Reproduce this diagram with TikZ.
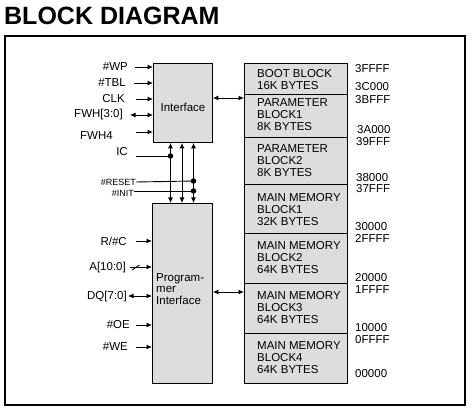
\documentclass[tikz,border=0pt]{standalone}
\usepackage{fontspec}
\setmainfont{Liberation Sans}
\usetikzlibrary{arrows.meta}
\definecolor{boxgray}{RGB}{221,221,221}
\begin{document}
\begin{tikzpicture}[x=1pt,y=-1pt,
  lbl/.style={font=\fontsize{11.5}{12}\selectfont, inner sep=0pt},
  slbl/.style={font=\fontsize{9}{10}\selectfont, inner sep=0pt},
  blk/.style={draw, fill=boxgray, line width=0.9pt, inner sep=0pt, anchor=north west},
  arr/.style={line width=0.9pt, -{Latex[length=5.5pt,width=5pt]}},
  darr/.style={line width=0.9pt, {Latex[length=5.5pt,width=5pt]}-{Latex[length=5.5pt,width=5pt]}},
  wire/.style={line width=0.9pt},
  dot/.style={circle, fill, inner sep=0pt, minimum size=5.5pt}]
\useasboundingbox (0,0) rectangle (473,411);

\node[anchor=west, inner sep=0pt, font=\fontsize{25}{25}\selectfont\bfseries] (title) at (4,16) {BLOCK DIAGRAM};
\draw[line width=2pt] (5,36.5) rectangle (465,405);

% blocks
\node[blk, minimum width=59pt, minimum height=79pt] (ifc) at (153,63) {};
\node[lbl] (ifctxt) at (183,107) {Interface};
\node[blk, minimum width=60pt, minimum height=180pt] (prog) at (152,203) {};
\node[lbl, anchor=west, align=left, font=\fontsize{11.5}{11.5}\selectfont] (progtxt) at (156,289) {Program-\\mer\\Interface};

% memory blocks
\node[blk, minimum width=103pt, minimum height=31pt] (b1) at (244,63) {};
\node[blk, minimum width=103pt, minimum height=43pt] (b2) at (244,94) {};
\node[blk, minimum width=103pt, minimum height=47pt] (b3) at (244,137) {};
\node[blk, minimum width=103pt, minimum height=49pt] (b4) at (244,184) {};
\node[blk, minimum width=103pt, minimum height=50pt] (b5) at (244,233) {};
\node[blk, minimum width=103pt, minimum height=50pt] (b6) at (244,283) {};
\node[blk, minimum width=103pt, minimum height=50pt] (b7) at (244,333) {};

\node[lbl, anchor=west, align=left] (t1) at (257,79.5) {BOOT BLOCK\\16K BYTES};
\node[lbl, anchor=west, align=left] (t2) at (257,115) {PARAMETER\\BLOCK1\\8K BYTES};
\node[lbl, anchor=west, align=left] (t3) at (257,161) {PARAMETER\\BLOCK2\\8K BYTES};
\node[lbl, anchor=west, align=left] (t4) at (257,209.5) {MAIN MEMORY\\BLOCK1\\32K BYTES};
\node[lbl, anchor=west, align=left] (t5) at (257,257.5) {MAIN MEMORY\\BLOCK2\\64K BYTES};
\node[lbl, anchor=west, align=left] (t6) at (257,307.5) {MAIN MEMORY\\BLOCK3\\64K BYTES};
\node[lbl, anchor=west, align=left] (t7) at (257,358) {MAIN MEMORY\\BLOCK4\\64K BYTES};

% addresses
\node[lbl, anchor=west] (a1) at (355,69) {3FFFF};
\node[lbl, anchor=west] (a2) at (355,87) {3C000};
\node[lbl, anchor=west] (a3) at (355,100) {3BFFF};
\node[lbl, anchor=west] (a4) at (357,130) {3A000};
\node[lbl, anchor=west] (a5) at (356,142) {39FFF};
\node[lbl, anchor=west] (a6) at (356,178) {38000};
\node[lbl, anchor=west] (a7) at (356,189) {37FFF};
\node[lbl, anchor=west] (a8) at (355,227) {30000};
\node[lbl, anchor=west] (a9) at (355,238) {2FFFF};
\node[lbl, anchor=west] (a10) at (355,278) {20000};
\node[lbl, anchor=west] (a11) at (355,290) {1FFFF};
\node[lbl, anchor=west] (a12) at (355,328) {10000};
\node[lbl, anchor=west] (a13) at (355,340) {0FFFF};
\node[lbl, anchor=west] (a14) at (355,374) {00000};

% left labels (interface)
\node[lbl, anchor=east] (wp) at (128,67) {\#WP};
\node[lbl, anchor=east] (tbl) at (126,83) {\#TBL};
\node[lbl, anchor=east] (clk) at (125,99) {CLK};
\node[lbl, anchor=east] (fwh) at (123,115) {FWH[3:0]};
\node[lbl, anchor=east] (fwh4) at (113,136) {FWH4};
\node[lbl, anchor=east] (ic) at (128,152) {IC};
\node[slbl, anchor=east] (reset) at (136,182) {\#RESET};
\node[slbl, anchor=east] (init) at (134,193.5) {\#INIT};

% left labels (programmer)
\node[lbl, anchor=east] (rc) at (127,241) {R/\#C};
\node[lbl, anchor=east] (addr) at (126,268) {A[10:0]};
\node[lbl, anchor=east] (dq) at (127,297) {DQ[7:0]};
\node[lbl, anchor=east] (oe) at (130,325) {\#OE};
\node[lbl, anchor=east] (we) at (128,347) {\#WE};

% free-end coordinates
\coordinate (cwp) at (135,67);
\coordinate (ctbl) at (134,83);
\coordinate (cclk) at (136,99);
\coordinate (cfwh) at (130,115);
\coordinate (cfwh4) at (136,132);
\coordinate (cic) at (136,156);
\coordinate (crc) at (136,241);
\coordinate (caddr) at (130,267);
\coordinate (cdq) at (128,296);
\coordinate (coe) at (136,325);
\coordinate (cwe) at (136,347);

\draw[arr] (cwp) -- (cwp -| ifc.west);
\draw[arr] (ctbl) -- (ctbl -| ifc.west);
\draw[arr] (cclk) -- (cclk -| ifc.west);
\draw[darr] (cfwh) -- (cfwh -| ifc.west);
\draw[arr] (cfwh4) -- (cfwh4 -| ifc.west);

\draw[arr] (crc) -- (crc -| prog.west);
\draw[arr] (caddr) -- (caddr -| prog.west);
\draw[wire] (132,270) -- (139.5,265);
\draw[darr] (cdq) -- (cdq -| prog.west);
\draw[arr] (coe) -- (coe -| prog.west);
\draw[arr] (cwe) -- (cwe -| prog.west);

% vertical buses
\coordinate (v1) at (170.5,0);
\coordinate (v2) at (182,0);
\coordinate (v3) at (193.5,0);
\draw[darr] (v1 |- ifc.south) -- (v1 |- prog.north);
\draw[darr] (v2 |- ifc.south) -- (v2 |- prog.north);
\draw[darr] (v3 |- ifc.south) -- (v3 |- prog.north);

\node[dot] (dic) at (170.5,156) {};
\node[dot] (dres) at (193.5,181) {};
\node[dot] (dinit) at (193.5,191) {};
\draw[wire] (cic) -- (dic.center);
\draw[wire] (reset.east) -- (dres.center);
\draw[wire] (init.east |- dinit) -- (dinit.center);

% to memory
\draw[darr] (ifc.east |- 0,98) -- (b2.west |- 0,98);
\draw[darr] (prog.east |- 0,292) -- (b6.west |- 0,292);
\end{tikzpicture}
\end{document}
